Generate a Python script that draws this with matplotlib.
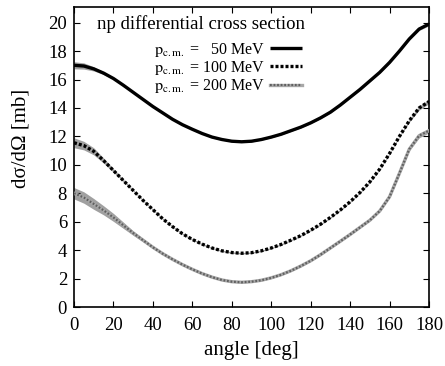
import matplotlib
matplotlib.use("Agg")
import matplotlib.pyplot as plt
import numpy as np

plt.rcParams['font.family'] = ['Liberation Serif', 'DejaVu Serif']
plt.rcParams['mathtext.fontset'] = 'stix'

angles = list(range(0, 181, 5))

xs_50 = [17.0, 16.95, 16.75, 16.45, 16.07, 15.6, 15.1, 14.6, 14.1, 13.65, 13.2, 12.82,
         12.5, 12.2, 11.95, 11.78, 11.66, 11.62, 11.66, 11.78, 11.95, 12.15, 12.4, 12.65,
         12.95, 13.3, 13.7, 14.2, 14.75, 15.3, 15.9, 16.5, 17.2, 18.0, 18.85, 19.55, 19.9]
xs_100 = [11.55, 11.35, 10.95, 10.3, 9.6, 8.9, 8.2, 7.5, 6.85, 6.2, 5.65, 5.15,
          4.75, 4.42, 4.15, 3.95, 3.83, 3.78, 3.82, 3.95, 4.15, 4.4, 4.7, 5.02,
          5.4, 5.82, 6.3, 6.82, 7.4, 8.05, 8.8, 9.7, 10.8, 12.0, 13.1, 14.0, 14.45]
xs_200 = [8.0, 7.7, 7.25, 6.8, 6.3, 5.75, 5.2, 4.7, 4.2, 3.75, 3.35, 2.98,
          2.65, 2.35, 2.1, 1.9, 1.78, 1.74, 1.78, 1.88, 2.05, 2.27, 2.55, 2.88,
          3.25, 3.68, 4.15, 4.62, 5.1, 5.6, 6.1, 6.75, 7.75, 9.4, 11.1, 12.05, 12.4]

err_50 = [0.25, 0.22, 0.15, 0.1, 0.07] + [0.05] * 29 + [0.08, 0.1, 0.12]
err_100 = [0.35, 0.3, 0.25, 0.18, 0.12, 0.08] + [0.05] * 28 + [0.1, 0.15, 0.15]
err_200 = [0.4, 0.4, 0.38, 0.32, 0.28, 0.22, 0.16, 0.12, 0.08] + [0.05] * 25 + [0.12, 0.15, 0.15]

labels = [r'$\mathrm{p}_{\mathrm{c.m.}}$ =   50 MeV',
          r'$\mathrm{p}_{\mathrm{c.m.}}$ = 100 MeV',
          r'$\mathrm{p}_{\mathrm{c.m.}}$ = 200 MeV']
x_ticks = [0, 20, 40, 60, 80, 100, 120, 140, 160, 180]
y_ticks = [0, 2, 4, 6, 8, 10, 12, 14, 16, 18, 20]

fig = plt.figure(figsize=(4.45, 3.66), dpi=100)
ax = fig.add_axes([74 / 445, 1 - 307 / 366, 355 / 445, 300 / 366])

a = np.array(angles)
band = '#a0a0a0'
for vals, err in [(xs_50, err_50), (xs_100, err_100), (xs_200, err_200)]:
    v = np.array(vals); e = np.array(err)
    ax.fill_between(a, v - e, v + e, color=band, lw=0, zorder=1)

l1, = ax.plot(a, xs_50, color='black', lw=2.4, zorder=3, solid_capstyle='butt')
l2, = ax.plot(a, xs_100, color='black', lw=2.4, ls=(0, (0.9, 0.6)), zorder=3)
l3a, = ax.plot(a, xs_200, color='#a8a8a8', lw=2.4, zorder=3)
l3b, = ax.plot(a, xs_200, color='#606060', lw=1.6, ls=(0, (0.8, 0.8)), zorder=4)

ax.set_xlim(0, 180)
ax.set_ylim(0, 21.1)
ax.set_xticks(x_ticks)
ax.set_xticklabels([str(t) for t in x_ticks])
ax.set_yticks(y_ticks)
ax.set_yticklabels([str(t) for t in y_ticks])
ax.tick_params(direction='in', length=4, width=0.8, top=True, right=True, labelsize=13.5)
ax.tick_params(axis='x', pad=7)
ax.tick_params(axis='y', pad=5)
for s in ax.spines.values():
    s.set_linewidth(1.2)

ax.set_xlabel('angle [deg]', fontsize=15, labelpad=5)
ax.set_ylabel('dσ/dΩ [mb]', fontsize=15)
ax.yaxis.label.set_va('center')
ax.yaxis.set_label_coords((20.5 - 74) / 355, (307 - 138) / 300)

ax.text(0.065, 0.943, 'np differential cross section', transform=ax.transAxes,
        fontsize=13.5, va='center', ha='left')

leg = ax.legend([l1, l2, (l3a, l3b)], labels, loc='upper right',
                bbox_to_anchor=(0.643, 0.888), frameon=False, markerfirst=False,
                fontsize=11.5, handlelength=2.0, handletextpad=0.35,
                labelspacing=0.02, borderaxespad=0, borderpad=0)

fig.savefig('out.png', dpi=100)
